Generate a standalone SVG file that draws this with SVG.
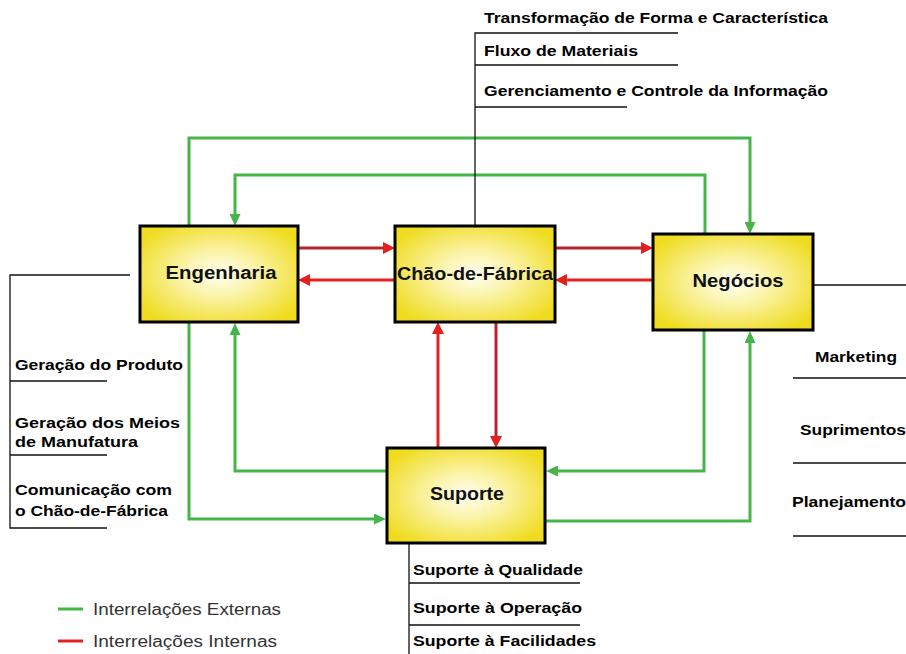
<svg xmlns="http://www.w3.org/2000/svg" width="906" height="654" viewBox="0 0 906 654">
  <style>
    .box { stroke: #000; stroke-width: 3; fill: url(#boxFill); }
    .node-label { font-family: "Liberation Sans", Arial, sans-serif; font-weight: bold; font-size: 18px; fill: #111; text-anchor: middle; }
    .item { font-family: "Liberation Sans", Arial, sans-serif; font-weight: bold; font-size: 14px; fill: #000; }
    .legend { font-family: "Liberation Sans", Arial, sans-serif; font-size: 16px; fill: #333; }
    .ext { fill: none; stroke: #45b549; stroke-width: 3; marker-end: url(#arrowGreen); }
    .int { fill: none; stroke: #e3201f; stroke-width: 3; marker-end: url(#arrowRed); }
    .int-dark { stroke: #b8242c; }
    .rule { fill: none; stroke: #111; stroke-width: 1.3; }
  </style>
  <defs>
    <radialGradient id="boxFill" cx="50%" cy="50%" r="60%">
      <stop offset="0%" stop-color="#fffff4"/>
      <stop offset="40%" stop-color="#fbf3a6"/>
      <stop offset="100%" stop-color="#efdc20"/>
    </radialGradient>
    <marker id="arrowGreen" markerUnits="userSpaceOnUse" viewBox="0 0 12 11" markerWidth="12" markerHeight="11" refX="4" refY="5.5" orient="auto">
      <path d="M0,0 L12,5.5 L0,11 z" fill="#45b549"/>
    </marker>
    <marker id="arrowRed" markerUnits="userSpaceOnUse" viewBox="0 0 12 12" markerWidth="12" markerHeight="12" refX="4" refY="6" orient="auto">
      <path d="M0,0 L12,6 L0,12 z" fill="#e3201f"/>
    </marker>
  </defs>

  <rect width="906" height="654" fill="#fff"/>

  <!-- connectors -->
  <g id="connectors">
    <!-- external relations (green) -->
    <path class="ext" d="M189,226 V138 H750 V226"/>
    <path class="ext" d="M705,234 V175 H235 V218"/>
    <path class="ext" d="M189,322 V519 H378"/>
    <path class="ext" d="M387,471 H235 V331"/>
    <path class="ext" d="M704,330 V471 H554"/>
    <path class="ext" d="M545,521 H750 V339"/>
    <!-- internal relations (red) -->
    <path class="int int-dark" d="M298,248 H387"/>
    <path class="int" d="M395,280 H306"/>
    <path class="int int-dark" d="M555,248 H645"/>
    <path class="int" d="M653,280 H563"/>
    <path class="int" d="M438,448 V330"/>
    <path class="int int-dark" d="M496,322 V440"/>
  </g>

  <!-- attribute lists -->
  <g id="chao-list">
    <path class="rule" d="M475,226 V33 H678 M475,65 H678 M475,107 H627"/>
    <text class="item" x="484" y="23" textLength="344" lengthAdjust="spacingAndGlyphs">Transformação de Forma e Característica</text>
    <text class="item" x="484" y="56" textLength="154" lengthAdjust="spacingAndGlyphs">Fluxo de Materiais</text>
    <text class="item" x="484" y="96" textLength="344" lengthAdjust="spacingAndGlyphs">Gerenciamento e Controle da Informação</text>
  </g>

  <g id="engenharia-list">
    <path class="rule" d="M130,275 H10 V528 H107 M10,381 H107 M10,455 H107"/>
    <text class="item" x="15" y="370" textLength="168" lengthAdjust="spacingAndGlyphs">Geração do Produto</text>
    <text class="item" x="15" y="428" textLength="165" lengthAdjust="spacingAndGlyphs">Geração dos Meios</text>
    <text class="item" x="15" y="447" textLength="123" lengthAdjust="spacingAndGlyphs">de Manufatura</text>
    <text class="item" x="15" y="495" textLength="157" lengthAdjust="spacingAndGlyphs">Comunicação com</text>
    <text class="item" x="15" y="516" textLength="153" lengthAdjust="spacingAndGlyphs">o Chão-de-Fábrica</text>
  </g>

  <g id="negocios-list">
    <path class="rule" d="M813,285 H906 M793,378 H906 M793,463 H906 M793,536 H906"/>
    <text class="item" x="815" y="362" textLength="82" lengthAdjust="spacingAndGlyphs">Marketing</text>
    <text class="item" x="800" y="435" textLength="106" lengthAdjust="spacingAndGlyphs">Suprimentos</text>
    <text class="item" x="792" y="507" textLength="114" lengthAdjust="spacingAndGlyphs">Planejamento</text>
  </g>

  <g id="suporte-list">
    <path class="rule" d="M409,543 V654 M409,583 H580 M409,625 H580"/>
    <text class="item" x="413" y="575" textLength="170" lengthAdjust="spacingAndGlyphs">Suporte à Qualidade</text>
    <text class="item" x="413" y="613" textLength="169" lengthAdjust="spacingAndGlyphs">Suporte à Operação</text>
    <text class="item" x="413" y="646" textLength="183" lengthAdjust="spacingAndGlyphs">Suporte à Facilidades</text>
  </g>

  <!-- nodes -->
  <g id="engenharia">
    <rect class="box" x="140" y="226" width="158" height="96"/>
    <text class="node-label" x="221" y="279" textLength="111" lengthAdjust="spacingAndGlyphs">Engenharia</text>
  </g>
  <g id="chao-de-fabrica">
    <rect class="box" x="395" y="226" width="160" height="96"/>
    <text class="node-label" x="475" y="280" textLength="156" lengthAdjust="spacingAndGlyphs">Chão-de-Fábrica</text>
  </g>
  <g id="negocios">
    <rect class="box" x="653" y="234" width="160" height="96"/>
    <text class="node-label" x="738" y="287" textLength="91" lengthAdjust="spacingAndGlyphs">Negócios</text>
  </g>
  <g id="suporte">
    <rect class="box" x="387" y="448" width="158" height="95"/>
    <text class="node-label" x="467" y="500" textLength="74" lengthAdjust="spacingAndGlyphs">Suporte</text>
  </g>

  <!-- legend -->
  <g id="legend">
    <line x1="58" y1="609" x2="83" y2="609" stroke="#45b549" stroke-width="3"/>
    <text class="legend" x="93" y="615" textLength="188" lengthAdjust="spacingAndGlyphs">Interrelações Externas</text>
    <line x1="58" y1="641" x2="83" y2="641" stroke="#e3201f" stroke-width="3"/>
    <text class="legend" x="93" y="647" textLength="184" lengthAdjust="spacingAndGlyphs">Interrelações Internas</text>
  </g>
</svg>
